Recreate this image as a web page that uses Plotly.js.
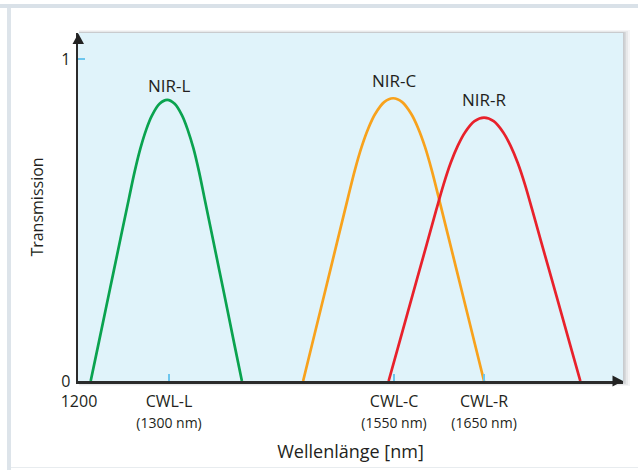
<!DOCTYPE html>
<html>
<head>
<meta charset="utf-8">
<script src="https://cdn.plot.ly/plotly-3.0.1.min.js"></script>
<style>html,body{margin:0;padding:0;background:#fff;}#chart{width:638px;height:470px;}</style>
</head>
<body>
<div id="chart"></div>
<script>
// Data (wavelength in nm, transmission 0..1)
var nirLX = [1213, 1221.5, 1234.3, 1247, 1255.5, 1261.9, 1268.3, 1274.6, 1281, 1289.5, 1298,
             1306.3, 1314.6, 1320.8, 1327.1, 1333.3, 1339.5, 1347.8, 1360.3, 1372.7, 1381];
var nirLY = [0, 0.113, 0.284, 0.454, 0.567, 0.651, 0.723, 0.780, 0.824, 0.861, 0.873,
             0.861, 0.824, 0.780, 0.723, 0.651, 0.567, 0.454, 0.284, 0.113, 0];
var nirCX = [1449, 1459, 1474, 1489, 1499, 1506.5, 1514, 1521.5, 1529, 1539, 1549,
             1559.1, 1569.2, 1576.8, 1584.4, 1591.9, 1599.5, 1609.6, 1624.8, 1639.9, 1650];
var nirCY = [0, 0.114, 0.285, 0.457, 0.571, 0.655, 0.727, 0.785, 0.829, 0.866, 0.878,
             0.866, 0.829, 0.785, 0.727, 0.655, 0.571, 0.457, 0.285, 0.114, 0];
var nirRX = [1544, 1554.6, 1570.5, 1586.4, 1597, 1605, 1612.9, 1620.9, 1628.8, 1639.4, 1650,
             1660.7, 1671.4, 1679.4, 1687.5, 1695.5, 1703.5, 1714.2, 1730.3, 1746.3, 1757];
var nirRY = [0, 0.106, 0.266, 0.425, 0.532, 0.610, 0.677, 0.731, 0.772, 0.807, 0.818,
             0.807, 0.772, 0.731, 0.677, 0.610, 0.532, 0.425, 0.266, 0.106, 0];

var seriesNames = ['NIR-L', 'NIR-C', 'NIR-R'];
var labelX = [1300, 1550, 1650];
var labelY = [0.919, 0.932, 0.874];

var xTickVals = [1200, 1300, 1550, 1650];
var xTickMain = ['1200', 'CWL-L', 'CWL-C', 'CWL-R'];
var xTickSub = ['', '(1300 nm)', '(1550 nm)', '(1650 nm)'];
var yTickVals = [0, 1];
var yTickText = ['0', '1'];

var colors = ['#0aa34f', '#f8a21c', '#e8212b'];

var FONT = '"Open Sans", "Noto Sans", sans-serif';
var TXT = '#231f20';
var L = 78, R = 623, T = 33, B = 381;
function px(x) { return (x - L) / (R - L); }
function py(y) { return (B - y) / (B - T); }

var xs = [nirLX, nirCX, nirRX], ys = [nirLY, nirCY, nirRY];
var traces = xs.map(function (x, i) {
  return {
    x: x, y: ys[i], type: 'scatter', mode: 'lines', name: seriesNames[i],
    line: { color: colors[i], width: 2.7, shape: 'spline', smoothing: 1 },
    hoverinfo: 'skip', showlegend: false
  };
});

var tickText = xTickMain.map(function (m, i) {
  return xTickSub[i] ? m + '<br><span style="font-size:14px">' + xTickSub[i] + '</span>' : m;
});

var annotations = seriesNames.map(function (n, i) {
  return {
    x: labelX[i], y: labelY[i], xref: 'x', yref: 'y', text: n, showarrow: false,
    font: { family: FONT, size: 17, color: TXT }, xanchor: 'center', yanchor: 'middle'
  };
});

function rectPx(x0, y0, x1, y1, fill, op) {
  return { type: 'rect', xref: 'paper', yref: 'paper', x0: px(x0), x1: px(x1), y0: py(y1), y1: py(y0),
    fillcolor: fill, opacity: op === undefined ? 1 : op, line: { width: 0 }, layer: 'below' };
}
function pathPx(pts, fill) {
  var d = pts.map(function (p, i) { return (i ? 'L' : 'M') + px(p[0]) + ',' + py(p[1]); }).join(' ') + ' Z';
  return { type: 'path', xref: 'paper', yref: 'paper', path: d, fillcolor: fill, line: { width: 0 }, layer: 'above' };
}

var shapes = [
  // outer frame
  rectPx(0, 4, 638, 8, '#d9e1e8'),
  rectPx(7, 8, 11, 470, '#dde4ea'),
  rectPx(11, 467, 638, 468, '#e8ecef'),
  // plot shadow (soft)
  rectPx(79, 30, 630, 386, '#9aa0a4', 0.10),
  rectPx(79, 31, 628, 385, '#9aa0a4', 0.14),
  rectPx(79, 32, 626, 384, '#9aa0a4', 0.2),
  rectPx(79, 32, 624.5, 383, '#9aa0a4', 0.25),
  // plot background
  rectPx(L, T, R, B, '#e0f3fa'),
  // axis arrows
  pathPx([[78.3, 33.5], [72.5, 44], [84, 44]], '#222'),
  pathPx([[623, 381], [612.5, 375.5], [612.5, 386.5]], '#222')
];

var layout = {
  width: 638, height: 470,
  margin: { l: L, r: 638 - R, t: T, b: 470 - B, pad: 0 },
  paper_bgcolor: '#ffffff', plot_bgcolor: 'rgba(0,0,0,0)',
  font: { family: FONT, color: TXT },
  xaxis: {
    range: [1198.9, 1804.4], showgrid: false, zeroline: false,
    showline: true, linecolor: '#2b2b2b', linewidth: 2.5,
    tickmode: 'array', tickvals: xTickVals, ticktext: tickText, tickangle: 0,
    ticks: 'inside', ticklen: 7, tickwidth: 1.5, tickcolor: '#6cc6ee',
    tickfont: { family: FONT, size: 16, color: TXT },
    ticklabelstandoff: 4,
    title: { text: 'Wellenlänge [nm]', font: { family: FONT, size: 18, color: TXT }, standoff: 15 },
    fixedrange: true
  },
  yaxis: {
    range: [0, 1.0807], showgrid: false, zeroline: false,
    showline: true, linecolor: '#2b2b2b', linewidth: 2.5,
    tickmode: 'array', tickvals: yTickVals, ticktext: yTickText,
    ticks: 'inside', ticklen: 7, tickwidth: 1.5, tickcolor: '#6cc6ee',
    tickfont: { family: FONT, size: 16, color: TXT },
    ticklabelstandoff: 2,
    title: { text: 'Transmission', font: { family: FONT, size: 16, color: TXT }, standoff: 14 },
    fixedrange: true
  },
  shapes: shapes,
  annotations: annotations
};

Plotly.newPlot('chart', traces, layout, { displayModeBar: false, staticPlot: true });
</script>
</body>
</html>
